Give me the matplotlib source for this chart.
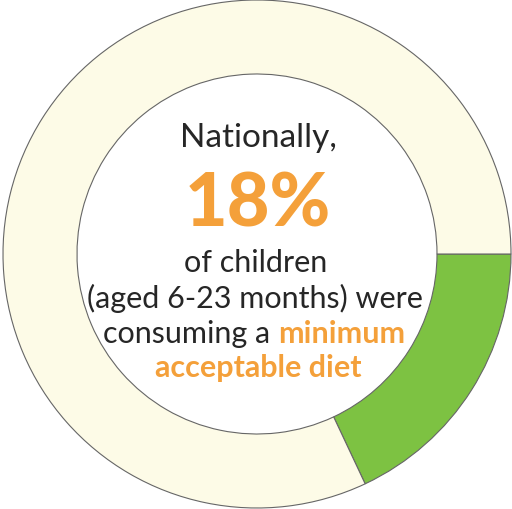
import matplotlib
matplotlib.use("Agg")
import matplotlib.pyplot as plt

labels = ["Minimum acceptable diet", "Other"]
values = [18, 82]
colors = ["#7DC242", "#FDFBE7"]

headline = "Nationally,"
pct_text = "18%"
line3 = "of children"
line4 = "(aged 6-23 months) were"
line5a = "consuming a "
line5b = "minimum"
line6 = "acceptable diet"

DARK = "#262626"
ORANGE = "#F4A03A"
FONT = "Lato"

fig = plt.figure(figsize=(5.12, 5.10), dpi=100)
ax = fig.add_axes([0, 0, 1, 1])

ax.pie(values, colors=colors, startangle=0, counterclock=False,
       radius=254, center=(257, 255), frame=True,
       wedgeprops=dict(width=74, edgecolor="#666666", linewidth=0.8))
ax.set_xlim(0, 512)
ax.set_ylim(0, 510)
ax.set_aspect("equal")
ax.axis("off")

def y(p):
    return 510 - p

ax.text(258, y(138), headline, ha="center", va="center", fontsize=24, color=DARK, family=FONT)
ax.text(258, y(205), pct_text, ha="center", va="center", fontsize=53, color=ORANGE, family=FONT, weight="black")
ax.text(256, y(263), line3, ha="center", va="center", fontsize=22, color=DARK, family=FONT)
ax.text(255, y(298), line4, ha="center", va="center", fontsize=22, color=DARK, family=FONT)

fig.canvas.draw()
r = fig.canvas.get_renderer()
ta = ax.text(0, y(334), line5a, ha="left", va="center", fontsize=22, color=DARK, family=FONT)
tb = ax.text(0, y(334), line5b, ha="left", va="center", fontsize=22, color=ORANGE, family=FONT, weight="bold")
wa = ta.get_window_extent(r).width
wb = tb.get_window_extent(r).width
x0 = 254 - (wa + wb) / 2
ta.set_x(x0)
tb.set_x(x0 + wa)
ax.text(258, y(368), line6, ha="center", va="center", fontsize=22, color=ORANGE, family=FONT, weight="bold")

fig.savefig("out.png", dpi=100)
